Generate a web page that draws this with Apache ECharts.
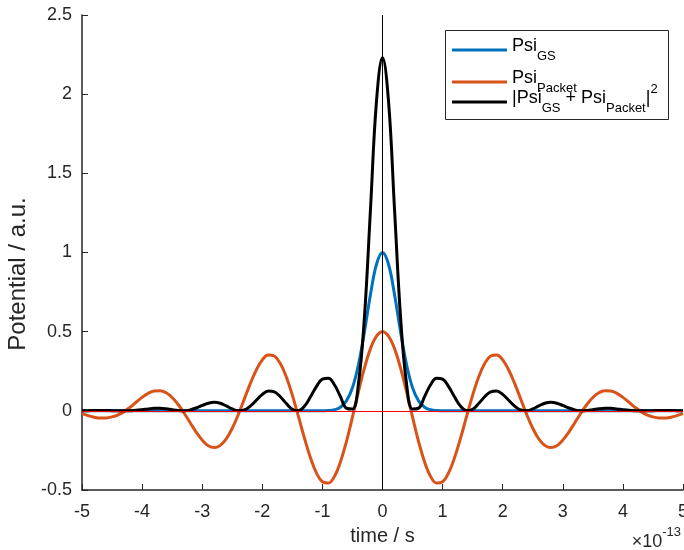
<!DOCTYPE html>
<html><head><meta charset="utf-8">
<script src="https://cdn.jsdelivr.net/npm/echarts@6/dist/echarts.min.js"></script>
<style>html,body{margin:0;padding:0;background:#fff}#c{width:684px;height:550px}</style>
</head><body><div id="c"></div>
<script>
// time axis values (units of 1e-13 s)
const time = [-5.0,-4.9,-4.8,-4.7,-4.6,-4.5,-4.4,-4.3,-4.2,-4.1,
  -4.0,-3.9,-3.8,-3.7,-3.6,-3.5,-3.4,-3.3,-3.2,-3.1,
  -3.0,-2.9,-2.8,-2.7,-2.6,-2.5,-2.4,-2.3,-2.2,-2.1,
  -2.0,-1.9,-1.8,-1.7,-1.6,-1.5,-1.4,-1.3,-1.2,-1.1,
  -1.0,-0.9,-0.8,-0.7,-0.6,-0.5,-0.4,-0.3,-0.2,-0.1,
  0.0,
  0.1,0.2,0.3,0.4,0.5,0.6,0.7,0.8,0.9,1.0,
  1.1,1.2,1.3,1.4,1.5,1.6,1.7,1.8,1.9,2.0,
  2.1,2.2,2.3,2.4,2.5,2.6,2.7,2.8,2.9,3.0,
  3.1,3.2,3.3,3.4,3.5,3.6,3.7,3.8,3.9,4.0,
  4.1,4.2,4.3,4.4,4.5,4.6,4.7,4.8,4.9,5.0];

const psiGS = [0,0,0,0,0,0,0,0,0,0,
  0,0,0,0,0,0,0,0,0,0,
  0,0,0,0,0,0,0,0,0,0,
  0,0,0,0,0,0,0,0,0,0,
  0.001,0.002,0.007,0.023,0.063,0.146,0.292,0.5,0.735,0.926,
  1.0,
  0.926,0.735,0.5,0.292,0.146,0.063,0.023,0.007,0.002,0.001,
  0,0,0,0,0,0,0,0,0,0,
  0,0,0,0,0,0,0,0,0,0,
  0,0,0,0,0,0,0,0,0,0,
  0,0,0,0,0,0,0,0,0,0];

const psiPacket = [-0.018,-0.030,-0.040,-0.046,-0.045,-0.038,-0.025,-0.005,0.023,0.054,
  0.085,0.110,0.125,0.127,0.114,0.084,0.040,-0.015,-0.075,-0.134,
  -0.185,-0.220,-0.232,-0.218,-0.177,-0.110,-0.024,0.074,0.172,0.258,
  0.322,0.353,0.346,0.299,0.214,0.099,-0.034,-0.171,-0.295,-0.392,
  -0.448,-0.456,-0.414,-0.323,-0.194,-0.040,0.121,0.271,0.393,0.472,
  0.500,
  0.472,0.393,0.271,0.121,-0.040,-0.194,-0.323,-0.414,-0.456,-0.448,
  -0.392,-0.295,-0.171,-0.034,0.099,0.214,0.299,0.346,0.353,0.322,
  0.258,0.172,0.074,-0.024,-0.110,-0.177,-0.218,-0.232,-0.220,-0.185,
  -0.134,-0.075,-0.015,0.040,0.084,0.114,0.127,0.125,0.110,0.085,
  0.054,0.023,-0.005,-0.025,-0.038,-0.045,-0.046,-0.040,-0.030,-0.018];

const psiTotal = [0.000,0.001,0.002,0.002,0.002,0.001,0.001,0.000,0.001,0.003,
  0.007,0.012,0.016,0.016,0.013,0.007,0.002,0.000,0.006,0.018,
  0.034,0.048,0.054,0.048,0.031,0.012,0.001,0.005,0.030,0.067,
  0.104,0.125,0.120,0.089,0.046,0.010,0.001,0.029,0.087,0.153,
  0.200,0.206,0.165,0.090,0.017,0.011,0.171,0.595,1.273,1.956,
  2.23,
  1.956,1.273,0.595,0.171,0.011,0.017,0.090,0.165,0.206,0.200,
  0.153,0.087,0.029,0.001,0.010,0.046,0.089,0.120,0.125,0.104,
  0.067,0.030,0.005,0.001,0.012,0.031,0.048,0.054,0.048,0.034,
  0.018,0.006,0.000,0.002,0.007,0.013,0.016,0.016,0.012,0.007,
  0.003,0.001,0.000,0.001,0.001,0.002,0.002,0.002,0.001,0.000];

const seriesNames = ['PsiGS', 'PsiPacket', 'PsiTotal'];
const legendLabels = {
  PsiGS: '{m|Psi}{s|GS}',
  PsiPacket: '{m|Psi}{s|Packet}',
  PsiTotal: '{M||Psi}{S|GS}{M| + Psi}{S|Packet}{M||}{P|2}'
};
const xAxisRange = [-5, 5, 1];
const yAxisRange = [-0.5, 2.5, 0.5];
const xTitle = 'time / s';
const yTitle = 'Potential / a.u.';

const FF = '"Liberation Sans", Arial, Helvetica, sans-serif';
const TXT = '#262626';
const colors = ['#0072BD', '#D95319', '#000000'];

function pairs(ys) { return time.map((t, i) => [t, ys[i]]); }

const legendRich = {
  m: {fontSize: 18, lineHeight: 18, verticalAlign: 'top', color: '#000', fontFamily: FF},
  s: {fontSize: 13, lineHeight: 13, verticalAlign: 'top', padding: [13, 0, 0, 0], color: '#000', fontFamily: FF},
  M: {fontSize: 18, lineHeight: 18, verticalAlign: 'top', padding: [8, 0, 0, 0], color: '#000', fontFamily: FF},
  S: {fontSize: 13, lineHeight: 13, verticalAlign: 'top', padding: [21, 0, 0, 0], color: '#000', fontFamily: FF},
  P: {fontSize: 13, lineHeight: 13, verticalAlign: 'top', padding: [2, 0, 0, 0], color: '#000', fontFamily: FF}
};
function legendFor(name, top, padBottom) {
  return {
    data: [name], left: 452, top: top, orient: 'vertical', icon: 'rect',
    itemWidth: 55, itemHeight: 3, padding: 0, selectedMode: false, z: 10,
    formatter: n => legendLabels[n],
    textStyle: {rich: legendRich, fontFamily: FF, padding: [0, 0, padBottom, 0]}
  };
}

const chart = echarts.init(document.getElementById('c'), null, {renderer: 'canvas'});
chart.setOption({
  animation: false,
  textStyle: {fontFamily: FF},
  grid: {left: 82, right: 1, top: 15, bottom: 60, containLabel: false, outerBoundsMode: 'none'},
  xAxis: {
    type: 'value', min: xAxisRange[0], max: xAxisRange[1], interval: xAxisRange[2],
    axisLine: {onZero: false, lineStyle: {color: TXT, width: 1.5}},
    axisTick: {inside: true, length: 6, lineStyle: {color: TXT}},
    axisLabel: {fontSize: 18, color: TXT, margin: 13, fontFamily: FF},
    splitLine: {show: false},
    name: xTitle, nameLocation: 'middle', nameGap: 36,
    nameTextStyle: {fontSize: 20, color: TXT, fontFamily: FF}
  },
  yAxis: {
    type: 'value', min: yAxisRange[0], max: yAxisRange[1], interval: yAxisRange[2],
    axisLine: {onZero: false, lineStyle: {color: TXT, width: 1.5}},
    axisTick: {inside: true, length: 6, lineStyle: {color: TXT}},
    axisLabel: {fontSize: 18, color: TXT, margin: 10, fontFamily: FF},
    splitLine: {show: false},
    name: yTitle, nameLocation: 'middle', nameGap: 39,
    nameTextStyle: {fontSize: 24, color: TXT, fontFamily: FF, padding: [0, 43, 0, 0]}
  },
  legend: [legendFor(seriesNames[0], 37, 8), legendFor(seriesNames[1], 69, 8), legendFor(seriesNames[2], 81, 24)],
  graphic: [
    {type: 'rect', left: 445, top: 30, z: 5, shape: {width: 223, height: 89},
     style: {fill: '#fff', stroke: TXT, lineWidth: 1}},
    {type: 'text', right: 3, top: 526, z: 5,
     style: {text: '{a|×10}{b|-13}', fontFamily: FF,
       rich: {a: {fontSize: 18, lineHeight: 18, verticalAlign: 'top', padding: [7, 0, 0, 0], fill: TXT, fontFamily: FF},
              b: {fontSize: 13, lineHeight: 13, verticalAlign: 'top', fill: TXT, fontFamily: FF}}}}
  ],
  series: [
    {name: seriesNames[0], type: 'line', data: pairs(psiGS), showSymbol: false, smooth: 0.4,
     lineStyle: {color: colors[0], width: 3}, itemStyle: {color: colors[0]}},
    {name: seriesNames[1], type: 'line', data: pairs(psiPacket), showSymbol: false, smooth: 0.4,
     lineStyle: {color: colors[1], width: 3}, itemStyle: {color: colors[1]}},
    {name: seriesNames[2], type: 'line', data: pairs(psiTotal), showSymbol: false, smooth: 0.4,
     lineStyle: {color: colors[2], width: 3}, itemStyle: {color: colors[2]},
     markLine: {silent: true, symbol: 'none', animation: false, label: {show: false},
       data: [
         {xAxis: 0, lineStyle: {color: '#000', width: 1, type: 'solid'}},
         {yAxis: 0, lineStyle: {color: '#ff0000', width: 1.2, type: 'solid'}}
       ]}}
  ]
});
</script></body></html>
